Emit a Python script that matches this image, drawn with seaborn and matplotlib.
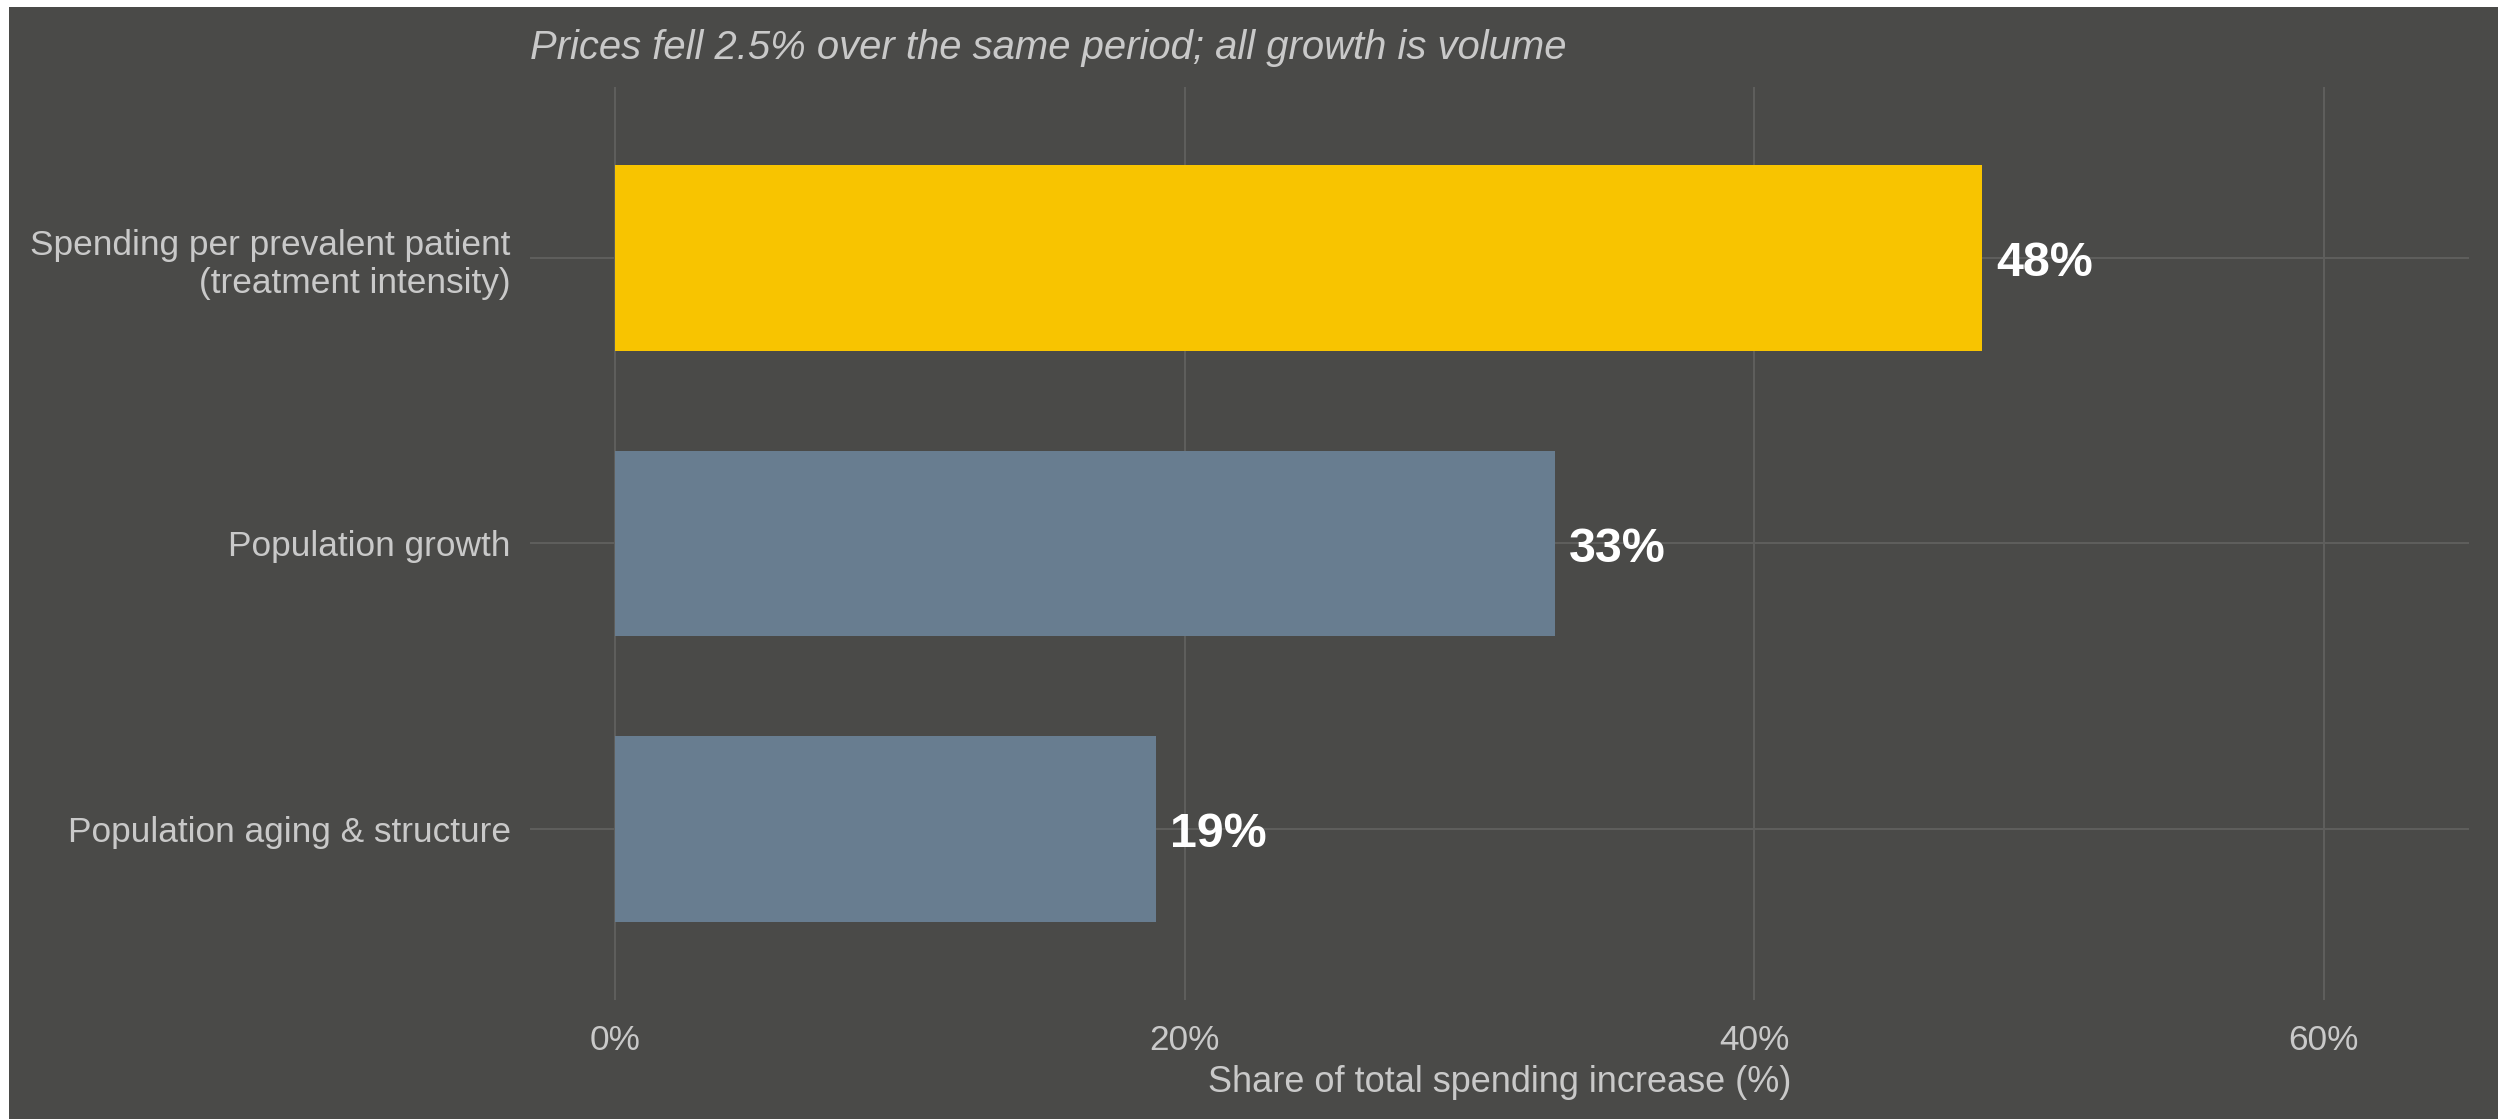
import matplotlib
matplotlib.use("Agg")
import matplotlib.pyplot as plt
import seaborn as sns
import pandas as pd
from matplotlib.patches import Rectangle
from matplotlib.ticker import FuncFormatter

# data
drivers = [
    "Spending per prevalent patient\n(treatment intensity)",
    "Population growth",
    "Population aging & structure",
]
shares = [48, 33, 19]
labels = ["48%", "33%", "19%"]
bar_colors = ["#f8c400", "#687d90", "#687d90"]

df = pd.DataFrame({"driver": drivers, "share": shares})

bg = "#4a4a48"
grid_c = "#5e5e5c"
text_c = "#c9c9c9"

sns.set_theme(style="dark")
plt.rcParams["font.family"] = ["Liberation Sans", "DejaVu Sans"]

fig = plt.figure(figsize=(24.98, 11.19), dpi=100, facecolor="white")
# dark plot background with the thin white edge of the original
fig.patches.append(Rectangle((0.0036, -0.01), 1, 1.0037, transform=fig.transFigure,
                             facecolor=bg, edgecolor="none", zorder=-10))
ax = fig.add_axes([0.2122, 0.1063, 0.9884 - 0.2122, 0.9223 - 0.1063])
ax.set_facecolor(bg)

sns.barplot(data=df, x="share", y="driver", hue="driver", palette=dict(zip(drivers, bar_colors)),
            orient="h", width=0.65, legend=False, saturation=1, linewidth=0, edgecolor="none",
            ax=ax, zorder=3)

for i, (v, lab) in enumerate(zip(shares, labels)):
    ax.annotate(lab, (v, i), xytext=(10, -4), textcoords="offset points",
                ha="left", va="center", fontsize=34.8, fontweight="bold", color="white", zorder=4)

ax.set_xlim(-3.0, 65.1)
ax.set_ylim(2.6, -0.6)
ax.set_xticks([0, 20, 40, 60])
ax.xaxis.set_major_formatter(FuncFormatter(lambda x, p: f"{x:.0f}%"))
ax.grid(True, color=grid_c, linewidth=1.5, zorder=0)
ax.set_axisbelow(True)
for s in ax.spines.values():
    s.set_visible(False)
ax.tick_params(axis="both", length=0, labelsize=25.4, labelcolor=text_c)
ax.tick_params(axis="y", pad=14)
ax.tick_params(axis="x", pad=17)
ax.set_ylabel("")
ax.set_xlabel("Share of total spending increase (%)", fontsize=26, color=text_c, labelpad=6)

fig.text(0.2122, 0.957, "Prices fell 2.5% over the same period; all growth is volume",
         fontsize=28.8, style="italic", color=text_c, ha="left", va="center")

fig.savefig("out.png", dpi=100, facecolor=fig.get_facecolor())
